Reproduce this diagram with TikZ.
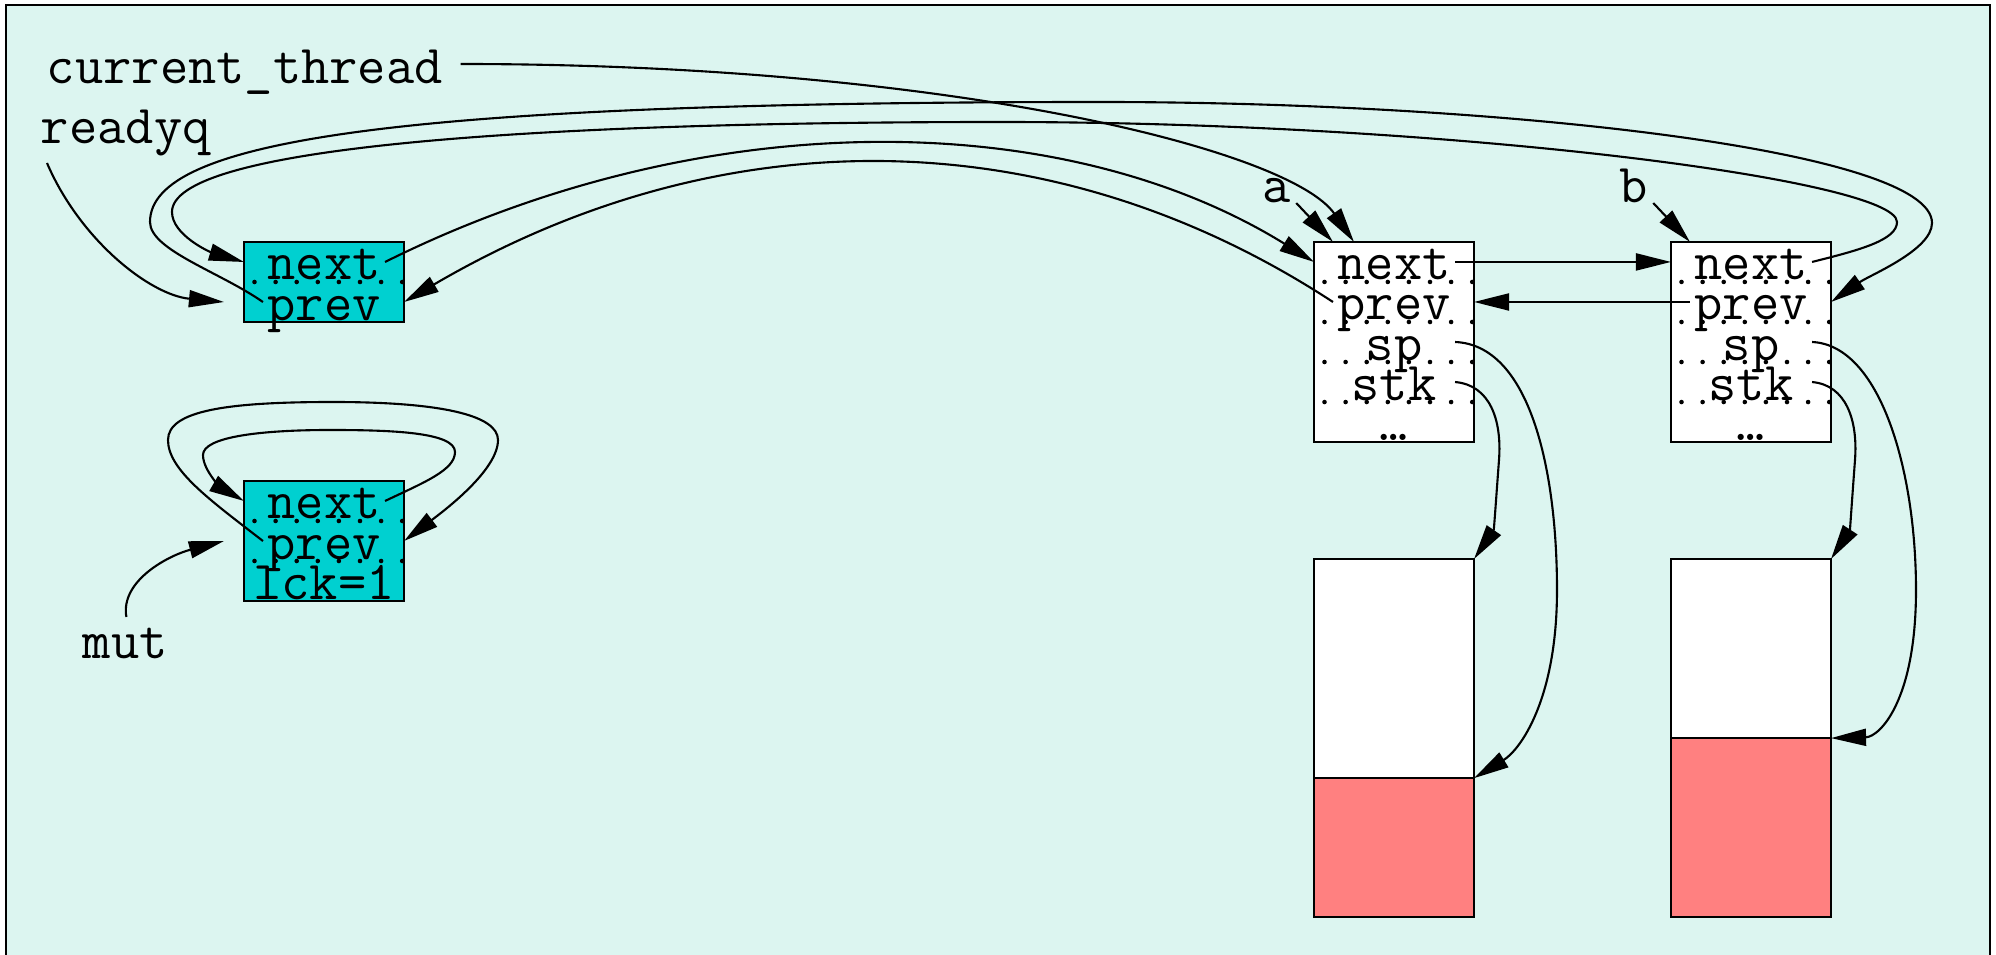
\documentclass[tikz,border=0pt]{standalone}
\usepackage{fontspec}
\usetikzlibrary{positioning,arrows.meta}

\definecolor{paper}{RGB}{220,245,240}
\definecolor{headcol}{RGB}{0,208,208}
\definecolor{usedcol}{RGB}{255,128,128}

\begin{document}
\begin{tikzpicture}[
    x=0.01cm, y=-0.01cm,
    txt/.style={font=\fontsize{15.6}{18}\ttfamily, inner sep=0pt, outer sep=0pt},
    lbl/.style={txt, anchor=base west},
    field/.style={
        txt,
        minimum width=1.6cm,
        minimum height=0.4cm,
        text height=0.38cm,
        text depth=0.02cm
    },
    recbox/.style={
        draw,
        semithick,
        minimum width=1.6cm,
        inner sep=0pt,
        outer sep=0pt
    },
    divider/.style={line width=1.3pt, line cap=round, dash pattern=on 0pt off 6pt, dash phase=-3pt},
    arrow/.style={-{Triangle[length=0.35cm,width=0.17cm]}, semithick}
]

\useasboundingbox (0,0) rectangle (1996,955);
\draw[semithick, fill=paper] (6,5) rectangle (1990,975);

% names
\node[lbl] (cur) at (47,84) {current\_thread};
\node[lbl] (rq) at (41,144) {readyq};
\node[lbl] (mut) at (83,659) {mut};
\node[lbl] (la) at (1262,203) {a};
\node[lbl] (lb) at (1619,203) {b};

% queue head
\node[recbox, fill=headcol, minimum height=0.8cm] (q) at (324,282) {};
\node[field, below=0pt of q.north] (qnext) {next};
\node[field, below=0pt of qnext] (qprev) {prev};
\draw[divider] (qnext.south west) -- (qnext.south east);

% mutex
\node[recbox, fill=headcol, minimum height=1.2cm] (m) at (324,541) {};
\node[field, below=0pt of m.north] (mnext) {next};
\node[field, below=0pt of mnext] (mprev) {prev};
\node[field, below=0pt of mprev] (mlck) {lck=1};
\foreach \f in {mnext,mprev}
    \draw[divider] (\f.south west) -- (\f.south east);

% thread a
\node[recbox, fill=white, minimum height=2cm] (a) at (1394,342) {};
\node[field, below=0pt of a.north] (anext) {next};
\node[field, below=0pt of anext] (aprev) {prev};
\node[field, below=0pt of aprev] (asp) {sp};
\node[field, below=0pt of asp] (astk) {stk};
\node[field, below=0pt of astk] (adots) {…};

% thread b
\node[recbox, fill=white, minimum height=2cm] (b) at (1751,342) {};
\node[field, below=0pt of b.north] (bnext) {next};
\node[field, below=0pt of bnext] (bprev) {prev};
\node[field, below=0pt of bprev] (bsp) {sp};
\node[field, below=0pt of bsp] (bstk) {stk};
\node[field, below=0pt of bstk] (bdots) {…};

\foreach \f in {anext,aprev,asp,astk,bnext,bprev,bsp,bstk}
    \draw[divider] (\f.south west) -- (\f.south east);

% stacks
\node[recbox, fill=white, minimum height=2.19cm, anchor=north] (afree) at (1394,559) {};
\node[recbox, fill=usedcol, minimum height=1.39cm, below=0pt of afree] (aused) {};
\node[recbox, fill=white, minimum height=1.79cm, anchor=north] (bfree) at (1751,559) {};
\node[recbox, fill=usedcol, minimum height=1.79cm, below=0pt of bfree] (bused) {};

% pointers
\draw[arrow] ([shift={(18,-20)}]cur.base east) .. controls (950,64) and (1290,150) .. ([shift={(40,0)}]a.north west);
\draw[arrow] ([shift={(6,19)}]rq.base west) .. controls (80,240) and (150,295) .. ([shift={(-20,0)}]qprev.west);
\draw[arrow] ([shift={(6,0)}]la.base east) -- ([shift={(19,0)}]a.north west);
\draw[arrow] ([shift={(6,0)}]lb.base east) -- ([shift={(19,0)}]b.north west);
\draw[arrow] ([shift={(1,-42)}]mut.base) .. controls (120,580) and (170,555) .. ([shift={(-20,0)}]mprev.west);

\draw[arrow] ([shift={(-19,0)}]qnext.east) .. controls (700,105) and (1060,105) .. (anext.west);
\draw[arrow] ([shift={(19,0)}]aprev.west) .. controls (1050,117) and (720,117) .. (qprev.east);
\draw[arrow] ([shift={(-19,0)}]anext.east) -- (bnext.west);
\draw[arrow] ([shift={(19,0)}]bprev.west) -- (aprev.east);

\draw[arrow] ([shift={(19,0)}]qprev.west) .. controls (220,272) and (150,250) .. (150,222)
    .. controls (150,140) and (400,102) .. (1100,102)
    .. controls (1500,102) and (1932,150) .. (1932,223)
    .. controls (1932,250) and (1870,275) .. (bprev.east);
\draw[arrow] ([shift={(-19,0)}]bnext.east) .. controls (1860,250) and (1897,240) .. (1897,222)
    .. controls (1897,180) and (1450,122) .. (1000,122)
    .. controls (500,122) and (172,150) .. (172,212)
    .. controls (172,235) and (210,252) .. (qnext.west);

\draw[arrow] ([shift={(-19,0)}]mnext.east) .. controls (425,482) and (455,470) .. (455,452)
    .. controls (455,432) and (390,430) .. (330,430)
    .. controls (260,430) and (203,437) .. (203,455)
    .. controls (203,472) and (225,490) .. (mnext.west);
\draw[arrow] ([shift={(19,0)}]mprev.west) .. controls (210,500) and (168,470) .. (168,440)
    .. controls (168,410) and (230,402) .. (333,402)
    .. controls (440,402) and (498,415) .. (498,440)
    .. controls (498,470) and (445,510) .. (mprev.east);

\draw[arrow] ([shift={(-19,0)}]asp.east) .. controls (1530,345) and (1557,470) .. (1557,590)
    .. controls (1557,700) and (1520,750) .. (aused.north east);
\draw[arrow] ([shift={(-19,0)}]astk.east) .. controls (1490,385) and (1502,420) .. (1499,460)
    .. controls (1496,500) and (1494,530) .. (afree.north east);
\draw[arrow] ([shift={(-19,0)}]bsp.east) .. controls (1880,345) and (1916,470) .. (1916,590)
    .. controls (1916,700) and (1880,737) .. (bused.north east);
\draw[arrow] ([shift={(-19,0)}]bstk.east) .. controls (1846,385) and (1858,420) .. (1855,460)
    .. controls (1852,500) and (1850,530) .. (bfree.north east);

\end{tikzpicture}
\end{document}
